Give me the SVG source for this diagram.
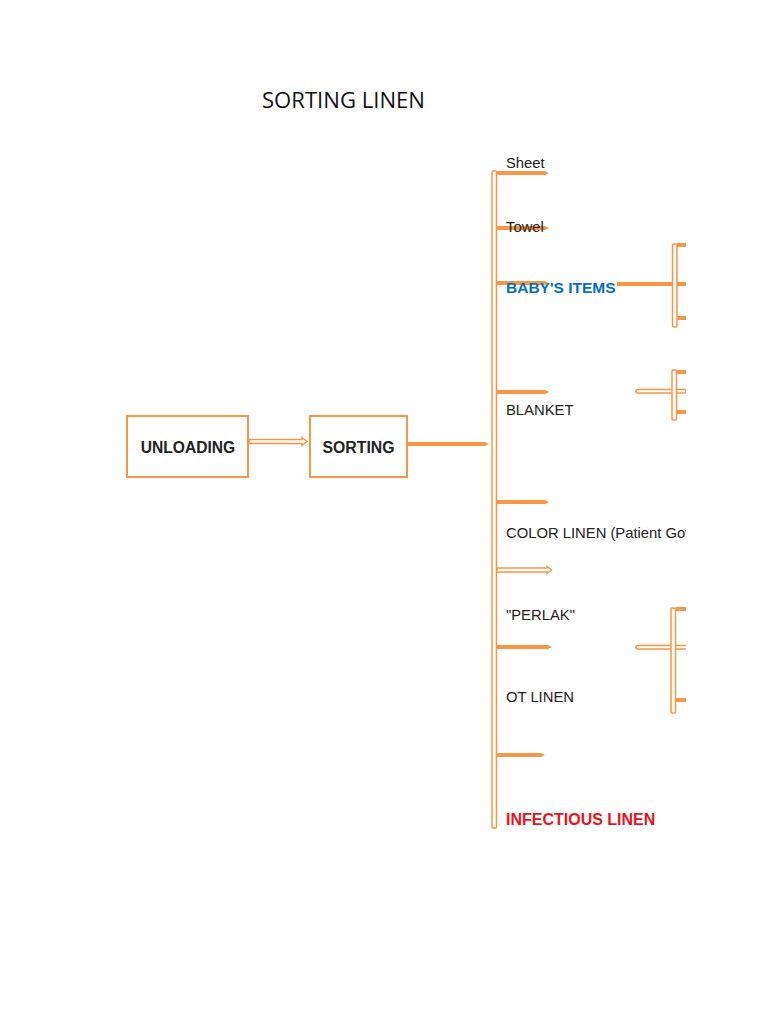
<svg xmlns="http://www.w3.org/2000/svg" width="768" height="1024" viewBox="0 0 768 1024">
<style>
.t{font-family:"Liberation Sans",Arial,sans-serif;font-size:14.8px;fill:#222}
.b{font-weight:bold}
.box{fill:#fff;stroke:#F79646;stroke-width:2}
.thick{stroke:#F79646;stroke-width:4;fill:none}
.dbl{stroke:#F79646;stroke-width:1.5;fill:#fff}
</style>
<defs>
<marker id="ah" markerWidth="5" markerHeight="5" refX="1" refY="2.5" orient="auto" markerUnits="userSpaceOnUse" viewBox="0 0 5 5"><path d="M0,0 L5,2.5 L0,5 Z" fill="#F79646"/></marker>
<clipPath id="clip"><rect x="0" y="0" width="686" height="1024"/></clipPath>
</defs>
<rect width="768" height="1024" fill="#fff"/>
<text x="262" y="108" font-family="Open Sans, Liberation Sans, sans-serif" font-size="22" fill="#111" textLength="163" lengthAdjust="spacingAndGlyphs">SORTING LINEN</text>
<g id="unloading"><rect class="box" x="127" y="416" width="121" height="61"/><text class="t b" x="188" y="453" text-anchor="middle" style="font-size:15.6px">UNLOADING</text></g>
<g id="sorting"><rect class="box" x="310" y="416" width="97" height="61"/><text class="t b" x="358.5" y="453" text-anchor="middle" style="font-size:15.8px">SORTING</text></g>
<g id="connectors" clip-path="url(#clip)">
<path class="dbl" d="M249,439.5 H302 V437.5 L307,441.5 L302,445.5 V443.5 H249 Z"/>
<line class="thick" x1="407" y1="444" x2="485" y2="444" marker-end="url(#ah)"/>
<rect class="dbl" x="492" y="171" width="4.5" height="657" rx="1"/>
<line class="thick" x1="497" y1="173" x2="545" y2="173" marker-end="url(#ah)"/>
<line class="thick" x1="497" y1="228" x2="545" y2="228" marker-end="url(#ah)"/>
<line class="thick" x1="497" y1="283" x2="545" y2="283" marker-end="url(#ah)"/>
<line class="thick" x1="497" y1="392" x2="545" y2="392" marker-end="url(#ah)"/>
<line class="thick" x1="497" y1="502" x2="545" y2="502" marker-end="url(#ah)"/>
<path class="dbl" d="M497,568 H547 V566.5 L551.5,570 L547,573.5 V572 H497 Z"/>
<line class="thick" x1="497" y1="647" x2="548" y2="647" marker-end="url(#ah)"/>
<line class="thick" x1="497" y1="755" x2="541" y2="755" marker-end="url(#ah)"/>
<line class="thick" x1="617" y1="284" x2="674" y2="284"/>
<rect class="dbl" x="672.5" y="244" width="4.5" height="83" rx="1"/>
<line class="thick" x1="677" y1="245" x2="690" y2="245"/>
<line class="thick" x1="677" y1="284" x2="690" y2="284"/>
<line class="thick" x1="677" y1="318" x2="690" y2="318"/>
<rect class="dbl" x="636" y="389.5" width="50" height="3.5" rx="1.5"/>
<rect class="dbl" x="672" y="370" width="4.5" height="50" rx="1"/>
<line class="thick" x1="677" y1="372" x2="690" y2="372"/>
<line class="thick" x1="677" y1="412" x2="690" y2="412"/>
<rect class="dbl" x="636" y="645.5" width="54" height="3.5" rx="1.5"/>
<rect class="dbl" x="671" y="608" width="4.5" height="105" rx="1"/>
<line class="thick" x1="676" y1="609" x2="690" y2="609"/>
<line class="thick" x1="676" y1="700" x2="690" y2="700"/>
</g>
<g id="labels" clip-path="url(#clip)">
<text class="t" x="506" y="168">Sheet</text>
<text class="t" x="506" y="232">Towel</text>
<text class="t b" x="506" y="293" style="fill:#0070C0;font-size:15.5px">BABY'S ITEMS</text>
<text class="t" x="506" y="415">BLANKET</text>
<text class="t" x="506" y="538">COLOR LINEN (Patient Gowns)</text>
<text class="t" x="506" y="620">"PERLAK"</text>
<text class="t" x="506" y="702">OT LINEN</text>
<text class="t b" x="506" y="825" style="fill:#E8141B;font-size:16px">INFECTIOUS LINEN</text>
</g>
</svg>
